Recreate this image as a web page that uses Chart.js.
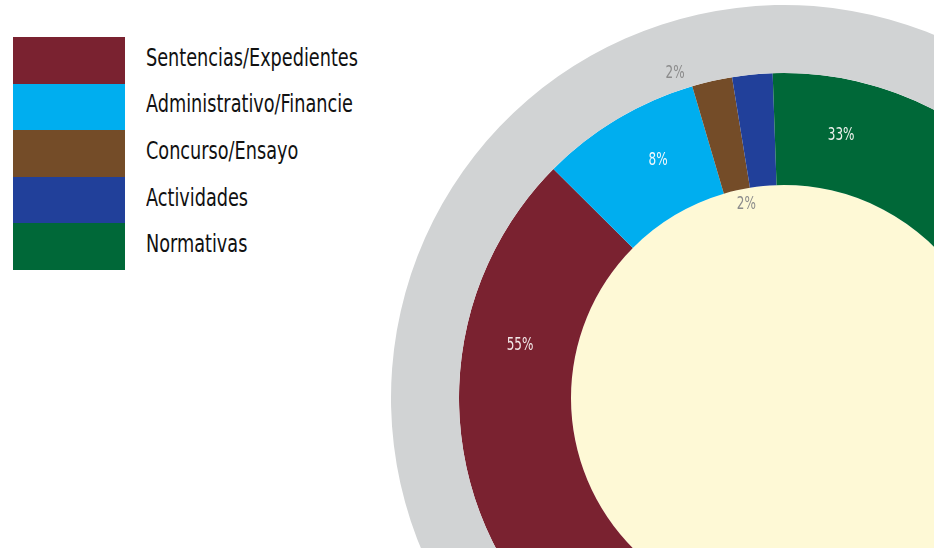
<!DOCTYPE html>
<html lang="es">
<head>
<meta charset="utf-8">
<title>Distribución por tipo</title>
<script src="https://cdn.jsdelivr.net/npm/chart.js@4.4.1/dist/chart.umd.min.js"></script>
<style>
  html, body {
    margin: 0;
    padding: 0;
    background: #ffffff;
  }
  body {
    position: relative;
    width: 934px;
    height: 548px;
    overflow: hidden;
    font-family: "Liberation Sans Narrow", "DejaVu Sans Condensed", "Roboto Condensed", "Liberation Sans", sans-serif;
    font-stretch: condensed;
  }
  #legend {
    position: absolute;
    left: 13px;
    top: 37px;
    margin: 0;
    padding: 0;
    list-style: none;
  }
  #legend li {
    display: flex;
    align-items: center;
    height: 46.6px;
  }
  #legend .swatch {
    width: 112px;
    height: 100%;
  }
  #legend .name {
    display: inline-block;
    position: relative;
    top: -3px;
    margin-left: 21px;
    font-size: 25px;
    color: #111111;
    white-space: nowrap;
    transform-origin: left center;
  }
  #ring {
    position: absolute;
    left: 391px;
    top: 5px;
    width: 786px;
    height: 786px;
  }
</style>
</head>
<body>
<ul id="legend"></ul>
<div id="ring"><canvas id="ringChart"></canvas></div>

<script>
  // Categories and their share (%)
  const categories = [
    'Sentencias/Expedientes',
    'Administrativo/Financie',
    'Concurso/Ensayo',
    'Actividades',
    'Normativas'
  ];
  const shares = [55, 8, 2, 2, 33];
  const sliceColors = ['#7a2230', '#00aeef', '#744c28', '#21409a', '#006838'];

  // Where each percentage sits: fraction along its arc and ring position
  const labelSpots = [
    { at: 0.83, ring: 'mid', color: '#f2e8e8' },
    { at: 0.6, ring: 'mid', color: '#f2f8fc' },
    { at: -0.3, ring: 'outside', color: '#8c8c8c' },
    { at: -0.25, ring: 'inside', color: '#8c8c8c' },
    { at: 0.12, ring: 'mid', color: '#eef2ee' }
  ];

  // Legend built from the same arrays
  const legendEl = document.getElementById('legend');
  const names = categories.map((name, i) => {
    const li = document.createElement('li');
    const sw = document.createElement('span');
    sw.className = 'swatch';
    sw.style.background = sliceColors[i];
    const txt = document.createElement('span');
    txt.className = 'name';
    txt.textContent = name;
    li.appendChild(sw);
    li.appendChild(txt);
    legendEl.appendChild(li);
    return txt;
  });

  // squeeze the legend text into a condensed face
  const squeeze = 212 / names[0].getBoundingClientRect().width;
  names.forEach(n => { n.style.transform = 'scaleX(' + squeeze.toFixed(3) + ')'; });

  // Percent labels drawn on top of the coloured ring
  const percentLabels = {
    id: 'percentLabels',
    afterDatasetsDraw(chart) {
      const meta = chart.getDatasetMeta(1);
      const ctx = chart.ctx;
      meta.data.forEach((arc, i) => {
        const spot = labelSpots[i];
        const p = arc.getProps(['x', 'y', 'startAngle', 'endAngle', 'innerRadius', 'outerRadius'], true);
        const angle = p.startAngle + spot.at * (p.endAngle - p.startAngle);
        let r = (p.innerRadius + p.outerRadius) / 2;
        if (spot.ring === 'outside') r = p.outerRadius + 17;
        if (spot.ring === 'inside') r = p.innerRadius - 16;
        ctx.save();
        ctx.translate(p.x + r * Math.cos(angle), p.y + r * Math.sin(angle));
        ctx.scale(squeeze, 1);
        ctx.font = '17px "Liberation Sans Narrow", "DejaVu Sans Condensed", "Liberation Sans", sans-serif';
        ctx.textAlign = 'center';
        ctx.textBaseline = 'middle';
        ctx.fillStyle = spot.color;
        ctx.fillText(shares[i] + '%', 0, 0);
        ctx.restore();
      });
    }
  };

  new Chart(document.getElementById('ringChart'), {
    type: 'doughnut',
    data: {
      labels: categories,
      datasets: [
        { data: [1], backgroundColor: ['#d1d3d4'], borderWidth: 0, weight: 68 },
        { data: shares, backgroundColor: sliceColors, borderWidth: 0, weight: 112 },
        { data: [1], backgroundColor: ['#fef9d6'], borderWidth: 0, weight: 213 }
      ]
    },
    options: {
      responsive: true,
      maintainAspectRatio: false,
      animation: false,
      events: [],
      cutout: 0,
      rotation: 116.8,
      layout: { padding: 0 },
      plugins: {
        legend: { display: false },
        tooltip: { enabled: false }
      }
    },
    plugins: [percentLabels]
  });
</script>
</body>
</html>
